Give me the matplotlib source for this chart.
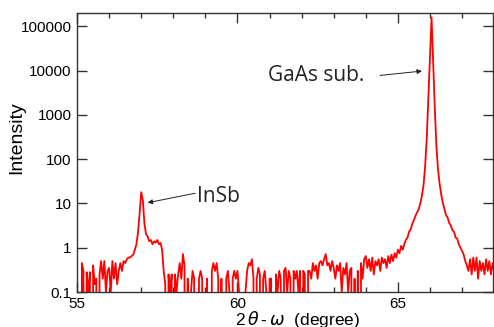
"""XRD 2theta-omega scan of InSb on GaAs substrate (log intensity)."""

import matplotlib

matplotlib.use("Agg")
import matplotlib.pyplot as plt
import numpy as np
from matplotlib.ticker import FixedLocator, FuncFormatter, MultipleLocator

# scan: 55.00 .. 68.00 deg, 0.05 deg step; 0 = no counts
SCAN_START = 55.0
SCAN_STEP = 0.05
intensity = [
    # 55
    0.2, 0, 0, 0.45, 0.3, 0, 0.28, 0.1, 0.28, 0, 0.4, 0.15, 0.2, 0, 0.25, 0.5, 0.2, 0.5, 0.1, 0.3,
    # 56
    0.35, 0.1, 0.5, 0.2, 0.45, 0.15, 0.3, 0.45, 0.3, 0.5, 0.45, 0.55, 0.6, 0.6, 0.65, 0.7, 0.9, 1.2, 2.2, 6.0,
    # 57 (InSb)
    18, 12, 3.5, 2.0, 1.8, 1.4, 1.5, 1.2, 1.4, 1.3, 1.5, 1.2, 1.3, 0.9, 0.3, 0.15, 0, 0.25, 0.1, 0.25,
    # 58
    0, 0.25, 0.1, 0.25, 0.45, 0.2, 0.72, 0.4, 0, 0.2, 0, 0.1, 0.3, 0.2, 0, 0, 0.2, 0.3, 0.2, 0,
    # 59
    0, 0.2, 0, 0, 0.3, 0.45, 0.3, 0.45, 0.2, 0, 0.2, 0, 0, 0.2, 0.3, 0.1, 0, 0.2, 0.3, 0.2,
    # 60
    0.3, 0.1, 0, 0, 0, 0.1, 0.3, 0.45, 0.4, 0.55, 0.2, 0, 0.2, 0.35, 0.25, 0, 0.2, 0.3, 0.1, 0,
    # 61
    0.2, 0.2, 0, 0, 0.25, 0.1, 0.3, 0.2, 0, 0.3, 0.35, 0.1, 0.3, 0.2, 0, 0.3, 0.2, 0.3, 0.1, 0.3,
    # 62
    0, 0.3, 0.25, 0, 0.3, 0.3, 0.2, 0.45, 0.3, 0.4, 0.2, 0.45, 0.5, 0.4, 0.55, 0.72, 0.4, 0.45, 0.3, 0.5,
    # 63
    0.35, 0.2, 0.4, 0.3, 0.45, 0.1, 0.35, 0.25, 0.45, 0.1, 0.3, 0.35, 0, 0.2, 0, 0.3, 0, 0.45, 0.2, 0.55,
    # 64
    0.65, 0.35, 0.55, 0.3, 0.6, 0.25, 0.5, 0.4, 0.55, 0.3, 0.6, 0.45, 0.55, 0.35, 0.65, 0.45, 0.7, 0.5, 0.75, 0.6,
    # 65
    0.9, 0.75, 1.1, 0.9, 1.2, 1.5, 1.7, 2.3, 2.6, 3.5, 4.2, 5.3, 6.3, 7.5, 10, 15, 26, 70, 300, 2500,
    # 66 (GaAs)
    20000, 160000, 15000, 1500, 200, 60, 28, 16, 10.5, 7.5, 5.5, 4.8, 3.6, 3.2, 2.5, 2.3, 1.7, 1.6, 1.2, 1.0,
    # 67
    0.85, 0.7, 0.5, 0.4, 0.3, 0.55, 0.25, 0.6, 0.3, 0.6, 0.2, 0.5, 0.3, 0.45, 0.25, 0.55, 0.3, 0.5, 0.25, 0.45,
    # 68
    0.3,
]

y_ticks = [0.1, 1, 10, 100, 1000, 10000, 100000]
x_major = [55, 60, 65]

annotations = [
    # text, text position, arrow tail, arrow head
    ("GaAs sub.", (60.95, 7900), (64.44, 7800), (65.75, 9800)),
    ("InSb", (58.73, 14.2), (58.68, 17), (57.20, 10.4)),
]

TICK_FONT = "Liberation Sans"
NOTE_FONT = "Open Sans"


def main():
    two_theta = SCAN_START + SCAN_STEP * np.arange(len(intensity))

    fig = plt.figure(figsize=(4.94, 3.27), dpi=100)
    ax = fig.add_axes([0.156, 0.107, 0.841, 0.853])

    ax.plot(two_theta, intensity, color="#ff0000", linewidth=1.3)

    ax.set_yscale("log", nonpositive="clip")
    ax.set_xlim(55, 67.95)
    ax.set_ylim(0.1, 2e5)

    ax.yaxis.set_major_locator(FixedLocator(y_ticks))
    ax.yaxis.set_major_formatter(FuncFormatter(lambda v, _: f"{v:g}" if v < 1 else f"{int(v)}"))
    ax.yaxis.set_minor_locator(FixedLocator([]))
    ax.xaxis.set_major_locator(FixedLocator(x_major))
    ax.xaxis.set_minor_locator(MultipleLocator(1))

    ax.tick_params(which="both", direction="in", top=True, right=True, color="#333333")
    ax.tick_params(which="major", length=7, width=1.0, labelsize=11, pad=4)
    ax.tick_params(axis="x", which="major", pad=3.5)
    ax.tick_params(which="minor", length=3.6, width=1.0)
    for lab in ax.get_xticklabels() + ax.get_yticklabels():
        lab.set_fontfamily(TICK_FONT)
    for spine in ax.spines.values():
        spine.set_color("#333333")
        spine.set_linewidth(1.0)

    ax.set_ylabel("Intensity", fontsize=14, family=TICK_FONT)
    ax.yaxis.set_label_coords(-0.125, 0.555)
    ax.set_xlabel(r"2$\,\theta\,$-$\,\omega$  (degree)", fontsize=12.5, family=TICK_FONT, va="top")
    ax.xaxis.set_label_coords(0.53, -0.062)

    for text, text_xy, tail, head in annotations:
        ax.annotate(
            "",
            xy=head,
            xytext=tail,
            arrowprops=dict(arrowstyle="-|>", color="#222222", lw=0.7, mutation_scale=7, shrinkA=0, shrinkB=0),
        )
        ax.text(text_xy[0], text_xy[1], text, ha="left", va="center", fontsize=15, family=NOTE_FONT, color="#222222")

    fig.savefig("out.png", dpi=100)
    plt.close(fig)


if __name__ == "__main__":
    main()
